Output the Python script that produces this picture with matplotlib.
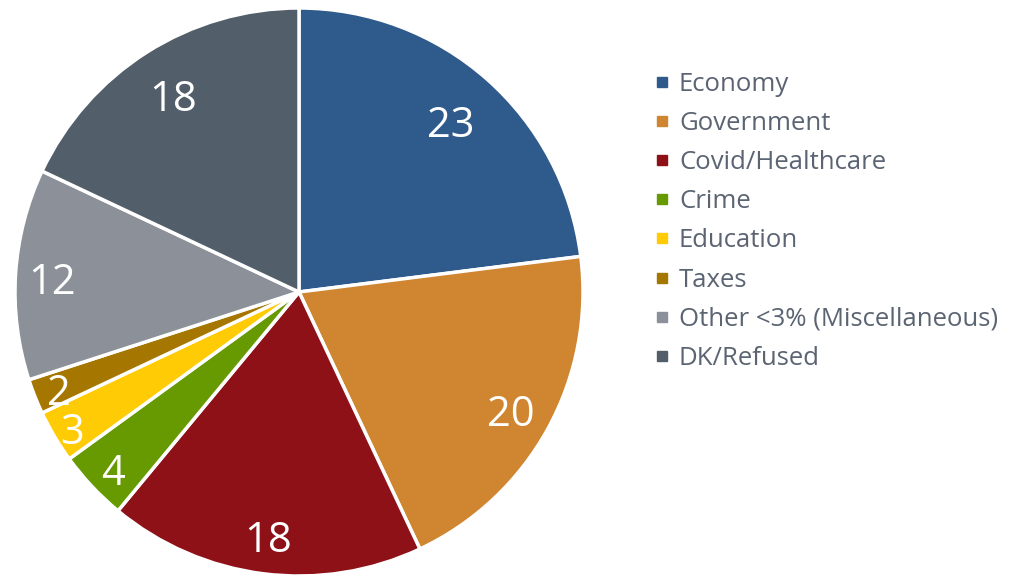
import numpy as np
import matplotlib.pyplot as plt
import matplotlib.transforms as mtransforms
from matplotlib.lines import Line2D

plt.rcParams['font.family'] = ['Open Sans', 'DejaVu Sans']

categories = ["Economy", "Government", "Covid/Healthcare", "Crime", "Education",
              "Taxes", "Other <3% (Miscellaneous)", "DK/Refused"]
values = [23, 20, 18, 4, 3, 2, 12, 18]
colors = ["#2e5a8c", "#d08530", "#8e1118", "#669a00", "#ffcb05",
          "#a57600", "#8c9199", "#525e6a"]
# distance of each value label from the centre (fraction of radius)
label_r = [0.81, 0.85, 0.86, 0.90, 0.93, 0.91, 0.87, 0.83]

W, H = 1021, 577
fig = plt.figure(figsize=(W / 100, H / 100), dpi=100)
fig.patch.set_facecolor("white")

cx, cy, r = 299, 292, 284
ax = fig.add_axes([(cx - r) / W, (H - cy - r) / H, 2 * r / W, 2 * r / H])
wedges, _ = ax.pie(values, colors=colors, startangle=90, counterclock=False,
                   wedgeprops=dict(edgecolor="white", linewidth=2.5))
ax.set_xlim(-1, 1)
ax.set_ylim(-1, 1)
ax.set_aspect("equal")

# nudge labels down a little, like the original
shift = mtransforms.ScaledTranslation(0, -7 / 100, fig.dpi_scale_trans)
total = sum(values)
start = 90
for v, lr in zip(values, label_r):
    mid = np.deg2rad(start - v / total * 360 / 2)
    ax.text(lr * np.cos(mid), lr * np.sin(mid), str(v), color="white",
            fontsize=30, ha="center", va="center",
            transform=ax.transData + shift)
    start -= v / total * 360

handles = [Line2D([], [], marker="s", linestyle="none", markersize=7.5,
                  markerfacecolor=c, markeredgecolor=c) for c in colors]
leg = fig.legend(handles, categories, loc="upper left",
                 bbox_to_anchor=(634 / W, 1 - 59 / H), frameon=False,
                 fontsize=18.5, labelspacing=0.55, handletextpad=0.05,
                 handlelength=1.2, borderpad=0)
for t in leg.get_texts():
    t.set_color("#5b6472")

plt.savefig("out.png", dpi=100)
